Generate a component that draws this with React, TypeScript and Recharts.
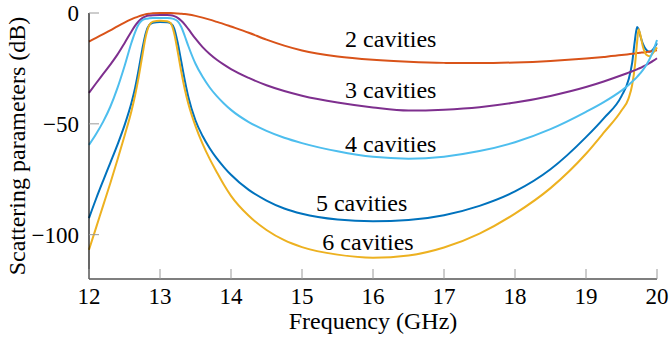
import React from 'react';
import { LineChart, Line, XAxis, YAxis, ReferenceDot } from 'recharts';

const FREQ = [12, 12.1, 12.2, 12.3, 12.4, 12.5, 12.6, 12.65, 12.7, 12.75, 12.8, 12.85, 12.9, 13.0, 13.1, 13.15, 13.2, 13.25, 13.3, 13.35, 13.4, 13.5, 13.6, 13.7, 13.8, 13.9, 14.0, 14.25, 14.5, 14.75, 15, 15.5, 16, 16.5, 17, 17.5, 18, 18.5, 19, 19.25, 19.5, 19.6, 19.65, 19.69, 19.72, 19.74, 19.77, 19.8, 19.85, 19.9, 19.95, 20];

const CAV2 = [-12.9, -11.2, -9.5, -7.8, -6.0, -4.3, -2.8, -2.1, -1.5, -1.0, -0.6, -0.35, -0.15, 0, 0, -0.05, -0.12, -0.22, -0.35, -0.5, -0.7, -1.3, -2.1, -3.0, -4.0, -5.0, -6.1, -8.9, -12.0, -14.7, -16.9, -19.6, -21.1, -22.0, -22.5, -22.6, -22.3, -21.6, -20.5, -19.8, -19.0, -18.6, -18.4, -18.25, -18.1, -18.0, -17.9, -17.8, -17.6, -17.4, -17.1, -16.8];

const CAV3 = [-36, -31.7, -27.5, -23.3, -18.8, -13.6, -8.2, -5.7, -3.7, -2.3, -1.5, -1.15, -1.0, -0.9, -0.9, -1.0, -1.4, -2.2, -3.5, -5.2, -7.3, -11.6, -15.4, -18.5, -21.1, -23.3, -25.3, -29.3, -32.6, -35.2, -37.3, -40.4, -42.6, -44.0, -43.6, -42.5, -40.4, -37.4, -33.4, -30.9, -28.1, -26.9, -26.3, -25.8, -25.4, -25.1, -24.7, -24.2, -23.4, -22.5, -21.5, -20.4];

const CAV4 = [-59.5, -54.6, -49.0, -42.3, -33.9, -24.0, -13.2, -8.6, -5.1, -3.3, -2.6, -2.4, -2.3, -2.3, -2.3, -2.4, -2.8, -3.8, -6.3, -10.5, -15.0, -22.9, -28.8, -33.6, -37.5, -40.8, -43.7, -49.2, -53.2, -56.3, -58.7, -62.4, -64.9, -65.7, -64.8, -62.3, -58.3, -52.4, -44.6, -40.2, -35.0, -32.5, -31.0, -29.8, -28.8, -28.1, -27.0, -25.8, -23.5, -20.5, -16.8, -12.2];

const CAV5 = [-92.5, -83.8, -75.6, -67.6, -59.5, -50.7, -40.3, -33.7, -25.5, -16.5, -9.0, -5.4, -4.4, -4.1, -4.2, -4.7, -7.0, -13.5, -22.0, -30.5, -38.0, -48.5, -55.5, -61.0, -65.6, -69.5, -73.0, -79.8, -84.6, -88.2, -90.6, -93.2, -94.0, -93.4, -91.2, -87.0, -80.5, -70.5, -56.0, -47.5, -37.5, -30.0, -22.5, -12.0, -6.3, -7.3, -10.8, -13.8, -16.6, -17.5, -16.2, -13.7];

const CAV6 = [-106.8, -96.8, -86.8, -76.8, -66.3, -55.5, -44.0, -37.0, -28.8, -19.5, -10.5, -5.4, -3.9, -3.5, -3.7, -4.6, -9.2, -17.5, -26.5, -34.5, -41.0, -51.0, -59.0, -65.8, -71.8, -77.5, -82.5, -91.5, -97.9, -102.5, -105.6, -109.0, -110.4, -109.4, -105.8, -99.5, -90.5, -79.0, -63.5, -54.0, -44.0, -38.5, -32.5, -23.5, -13.0, -7.3, -10.5, -15.0, -18.8, -19.5, -17.8, -15.5];

const X_TICKS = [12, 13, 14, 15, 16, 17, 18, 19, 20];
const Y_TICKS = [-100, -50, 0];

const LABEL_TEXTS = ['2 cavities', '3 cavities', '4 cavities', '5 cavities', '6 cavities'];
const LABEL_FREQ = [16.25, 16.25, 16.25, 15.84, 15.93];
const LABEL_DB = [-15.2, -38.4, -62.5, -89.5, -106.8];

const data = FREQ.map((f, i) => ({
  f,
  c2: CAV2[i],
  c3: CAV3[i],
  c4: CAV4[i],
  c5: CAV5[i],
  c6: CAV6[i],
}));

const FONT = '"Liberation Serif", "Times New Roman", Times, serif';
const TICK_COLOR = '#9a9a9a';
const TICK_LEN = 10;

const fmt = (v: number) => String(v).replace('-', '\u2212');

const BottomTick = (props: any) => {
  const { x, y, payload } = props;
  return (
    <g>
      <line x1={x} y1={y} x2={x} y2={y - TICK_LEN} stroke={TICK_COLOR} strokeWidth={1} />
      <text x={x} y={y + 25} textAnchor="middle" fontSize={23} fontFamily={FONT} fill="#000">
        {fmt(payload.value)}
      </text>
    </g>
  );
};

const TopTick = (props: any) => {
  const { x, y } = props;
  return <line x1={x} y1={y} x2={x} y2={y + TICK_LEN} stroke={TICK_COLOR} strokeWidth={1} />;
};

const LeftTick = (props: any) => {
  const { x, y, payload } = props;
  return (
    <g>
      <line x1={x} y1={y} x2={x + TICK_LEN} y2={y} stroke={TICK_COLOR} strokeWidth={1} />
      <text x={x - 10} y={y} dy="0.36em" textAnchor="end" fontSize={23} fontFamily={FONT} fill="#000">
        {fmt(payload.value)}
      </text>
    </g>
  );
};

const RightTick = (props: any) => {
  const { x, y } = props;
  return <line x1={x - TICK_LEN} y1={y} x2={x} y2={y} stroke={TICK_COLOR} strokeWidth={1} />;
};

const XLabel = (props: any) => {
  const vb = props.viewBox;
  return (
    <text x={vb.x + vb.width / 2} y={vb.y + vb.height - 12} textAnchor="middle" fontSize={24} fontFamily={FONT} fill="#000">
      Frequency (GHz)
    </text>
  );
};

const YLabel = (props: any) => {
  const vb = props.viewBox;
  const cx = vb.x + 17;
  const cy = vb.y + vb.height / 2;
  return (
    <text x={cx} y={cy} dy="0.33em" textAnchor="middle" fontSize={24} fontFamily={FONT} fill="#000" transform={`rotate(-90, ${cx}, ${cy})`}>
      Scattering parameters (dB)
    </text>
  );
};

const makeCurveLabel = (text: string) => (props: any) => {
  const vb = props.viewBox;
  return (
    <text x={vb.x} y={vb.y} textAnchor="middle" fontSize={24} fontFamily={FONT} fill="#000">
      {text}
    </text>
  );
};

const axisLine = { stroke: '#000', strokeWidth: 1.2 };

export default function App() {
  return (
    <div style={{ position: 'absolute', left: 0, top: 0, width: 670, height: 341, background: '#fff' }}>
      <LineChart width={670} height={341} data={data} margin={{ top: 13, right: 13, bottom: 0, left: 0 }}>
        <XAxis
          dataKey="f"
          type="number"
          domain={[12, 20]}
          ticks={X_TICKS}
          interval={0}
          height={62}
          tickLine={false}
          tickSize={0}
          tickMargin={0}
          axisLine={axisLine}
          tick={<BottomTick />}
          label={{ content: <XLabel /> }}
        />
        <XAxis
          xAxisId="top"
          orientation="top"
          dataKey="f"
          type="number"
          domain={[12, 20]}
          ticks={X_TICKS}
          interval={0}
          height={0}
          tickLine={false}
          tickSize={0}
          tickMargin={0}
          axisLine={{ stroke: '#555', strokeWidth: 1.2 }}
          tick={<TopTick />}
        />
        <YAxis
          type="number"
          domain={[-120, 0]}
          ticks={Y_TICKS}
          interval={0}
          width={89}
          tickLine={false}
          tickSize={0}
          tickMargin={0}
          axisLine={axisLine}
          tick={<LeftTick />}
          label={{ content: <YLabel /> }}
        />
        <YAxis
          yAxisId="right"
          orientation="right"
          type="number"
          domain={[-120, 0]}
          ticks={Y_TICKS}
          interval={0}
          width={0}
          tickLine={false}
          tickSize={0}
          tickMargin={0}
          axisLine={axisLine}
          tick={<RightTick />}
        />
        <Line type="monotone" dataKey="c5" stroke="#0072BD" strokeWidth={2} dot={false} isAnimationActive={false} />
        <Line type="monotone" dataKey="c2" stroke="#D95319" strokeWidth={2} dot={false} isAnimationActive={false} />
        <Line type="monotone" dataKey="c6" stroke="#EDB120" strokeWidth={2} dot={false} isAnimationActive={false} />
        <Line type="monotone" dataKey="c3" stroke="#7E2F8E" strokeWidth={2} dot={false} isAnimationActive={false} />
        <Line type="monotone" dataKey="c4" stroke="#4DBEEE" strokeWidth={2} dot={false} isAnimationActive={false} />
        {LABEL_TEXTS.map((t, i) => (
          <ReferenceDot
            key={t}
            x={LABEL_FREQ[i]}
            y={LABEL_DB[i]}
            r={0}
            fill="none"
            stroke="none"
            label={{ content: makeCurveLabel(t) }}
          />
        ))}
      </LineChart>
    </div>
  );
}
